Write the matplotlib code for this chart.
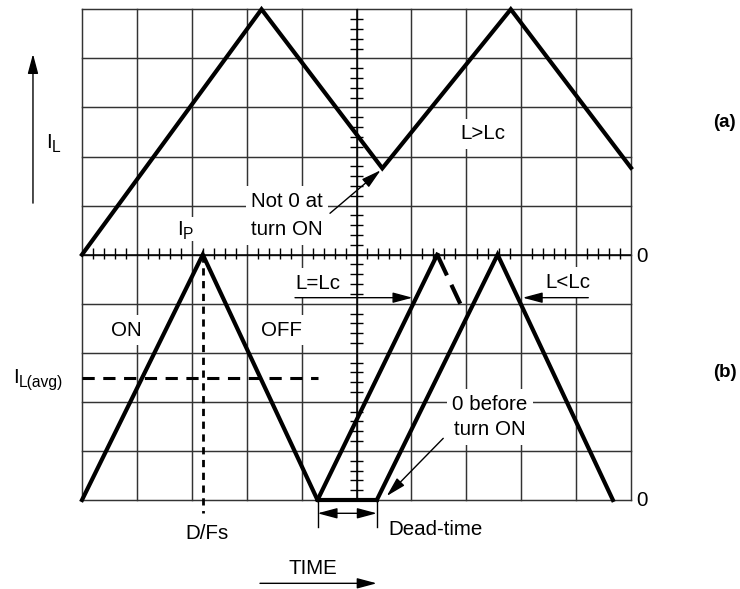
import matplotlib
matplotlib.use("Agg")
import matplotlib.pyplot as plt
import matplotlib.transforms as mtransforms
from matplotlib.patches import Rectangle
import numpy as np

plt.rcParams["font.family"] = "Liberation Sans"

# graticule is 10 x 10 divisions; upper half = (a), lower half = (b)
n_div = 10

# (a) continuous conduction, L > Lc
trace_a_x = [0, 3.27, 5.47, 7.81, 10]
trace_a_y = [5, 10, 6.76, 10, 6.77]

# (b) first cycle, then dead-time at zero
trace_b_x = [0, 2.2, 4.29, 5.37]
trace_b_y = [0, 5, 0, 0]

# L = Lc ramp and its dashed fall
crit_x = [4.29, 6.47]
crit_y = [0, 5]
crit_fall_x = [6.47, 6.89]
crit_fall_y = [5, 4.0]

# L < Lc cycle
disc_x = [5.37, 7.57, 9.67]
disc_y = [0, 5, 0]

peak_time = 2.2
avg_level = 2.49
avg_end = 4.3
dead_start, dead_end = 4.29, 5.37

FS = 14.8
grid_col = "#333333"

fig = plt.figure(figsize=(7.4, 5.89), dpi=100)
ax = fig.add_axes([82 / 740, 89 / 589, 549 / 740, 490.7 / 589])
ax.set_xlim(0, n_div)
ax.set_ylim(0, n_div)
ax.axis("off")

# grid
for i in range(n_div + 1):
    ax.plot([i, i], [0, n_div], color=grid_col, lw=1.05, zorder=1, clip_on=False)
    ax.plot([0, n_div], [i, i], color=grid_col, lw=1.05, zorder=1, clip_on=False)

# centre axes with minor ticks
ax.plot([5, 5], [0, n_div], color="black", lw=1.1, zorder=2)
ax.plot([0, n_div], [5, 5], color="black", lw=1.1, zorder=2)
minor = np.arange(0.2, n_div, 0.2)
minor = minor[np.abs(minor - np.round(minor)) > 0.01]
ax.vlines(minor, 5 - 0.09, 5 + 0.13, color="black", lw=1.0, zorder=2)
ax.hlines(minor, 5 - 0.12, 5 + 0.12, color="black", lw=1.0, zorder=2)

# waveforms
wkw = dict(color="black", lw=3.0, zorder=5, solid_joinstyle="miter", clip_on=False)
ax.plot(trace_a_x, trace_a_y, **wkw)
ax.plot(trace_b_x, trace_b_y, **wkw)
ax.plot(crit_x, crit_y, **wkw)
ax.plot(disc_x, disc_y, **wkw)
ax.plot(crit_fall_x, crit_fall_y, color="black", lw=3.0, zorder=5,
        linestyle=(0, (5.5, 2.5)))

# peak marker and average level
ax.plot([peak_time, peak_time], [5, -0.27], color="black", lw=2.0,
        linestyle=(0, (2.6, 2.0)), zorder=4, clip_on=False)
ax.plot([0, avg_end], [avg_level, avg_level], color="black", lw=2.2,
        linestyle=(0, (4.0, 2.8)), zorder=4)

# dead-time markers
ax.plot([dead_start, dead_start], [0, -0.544], color="black", lw=1.0, clip_on=False)
ax.plot([dead_end, dead_end], [0, -0.544], color="black", lw=1.0, clip_on=False)

head = "-|>,head_length=0.6,head_width=0.16"
akw = dict(arrowstyle=head, color="black", lw=1.0, shrinkA=0, shrinkB=0,
           mutation_scale=20)


def arrow(x0, y0, x1, y1, style=head):
    props = dict(akw)
    props["arrowstyle"] = style
    ax.annotate("", xy=(x1, y1), xytext=(x0, y0), arrowprops=props,
                annotation_clip=False, zorder=6)


arrow(dead_start, -0.271, dead_end, -0.271,
      style="<|-|>,head_length=0.6,head_width=0.16")
arrow(-0.893, 6.05, -0.893, 9.09)
arrow(3.242, -1.698, 5.368, -1.698)
arrow(3.88, 4.123, 6.02, 4.123)
arrow(9.222, 4.123, 8.027, 4.123)
arrow(4.517, 5.843, 5.44, 6.72)
arrow(6.58, 1.257, 5.55, 0.08)

# labels
box = dict(facecolor="white", edgecolor="none", pad=4)


def label(x, y, s, ha="center", va="center", bbox=None, **kw):
    ax.text(x, y, s, ha=ha, va=va, fontsize=FS, bbox=bbox, zorder=3,
            clip_on=False, **kw)


def sub_label(x, y, main, sub):
    # main letter plus a lowered, smaller subscript
    label(x, y, main, ha="left", va="baseline")
    tr = mtransforms.offset_copy(ax.transData, fig=fig, x=4.3, y=-2.8,
                                 units="points")
    ax.text(x, y, sub, ha="left", va="baseline", fontsize=FS * 0.76,
            transform=tr, zorder=3, clip_on=False)


sub_label(-0.656, 7.17, "I", "L")
sub_label(-1.257, 2.384, "I", "L(avg)")
# white patch behind I_P hides the grid line
ax.add_patch(Rectangle((1.62, 5.28), 0.47, 0.49, facecolor="white",
                       edgecolor="none", zorder=2.5))
sub_label(1.725, 5.40, "I", "P")
label(0.814, 3.464, "ON", bbox=box)
label(3.638, 3.464, "OFF", bbox=box)
label(4.29, 4.42, "L=Lc", bbox=box)
label(8.858, 4.44, "L<Lc", bbox=box)
label(7.295, 7.459, "L>Lc", bbox=box)
label(3.734, 5.977, "Not 0 at", va="baseline", bbox=box)
label(3.734, 5.40, "turn ON", va="baseline", bbox=box)
label(7.432, 1.844, "0 before", va="baseline", bbox=box)
label(7.432, 1.325, "turn ON", va="baseline", bbox=box)
label(10.09, 4.97, "0", ha="left")
label(10.09, 0.0, "0", ha="left")
label(2.277, -0.673, "D/Fs")
label(5.574, -0.591, "Dead-time", ha="left")
label(4.199, -1.406, "TIME")
ax.text(11.71, 7.70, "(a)", ha="center", va="center", fontsize=13.5,
        fontweight="bold", clip_on=False)
ax.text(11.71, 2.59, "(b)", ha="center", va="center", fontsize=13.5,
        fontweight="bold", clip_on=False)

fig.savefig("out.png", dpi=100)
